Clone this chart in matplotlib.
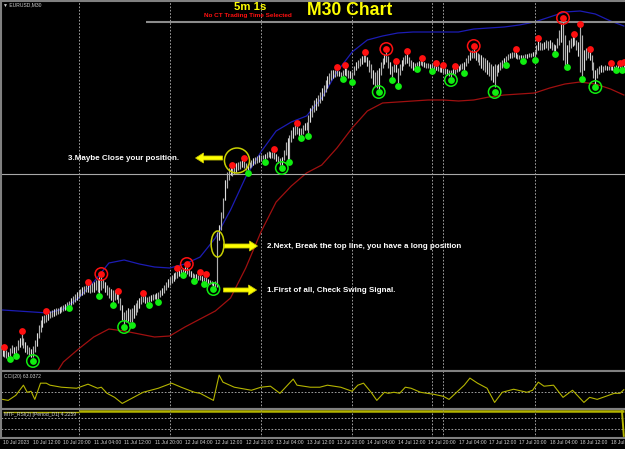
import numpy as np
import matplotlib
matplotlib.use('Agg')
import matplotlib.pyplot as plt
from matplotlib.patches import Ellipse, FancyArrow

plt.rcParams['font.family'] = ['Liberation Sans', 'DejaVu Sans']

# EURUSD M30 bars from 10 Jul 04:00; prices in pips above 1.0900
high_pips = [24, 21, 20, 18, 22, 25, 23, 24, 30, 32, 36, 32, 28, 25, 23, 21, 24, 30, 37, 45,
             50, 54, 55, 56, 58, 59, 60, 61, 62, 62, 63, 64, 65, 66, 68, 69, 72, 74, 76, 78,
             80, 81, 83, 84, 85, 85, 86, 87, 88, 90, 91, 93, 94, 91, 88, 85, 83, 81, 80, 80,
             80, 76, 72, 65, 58, 60, 62, 61, 62, 65, 67, 70, 72, 74, 75, 74, 73, 74, 75, 76,
             76, 77, 78, 80, 82, 85, 88, 91, 93, 95, 97, 98, 99, 100, 101, 102, 103, 103, 101, 99,
             97, 96, 96, 95, 95, 94, 93, 93, 91, 90, 89, 88, 89, 138, 145, 158, 172, 190, 198, 202,
             204, 202, 204, 207, 208, 209, 210, 209, 207, 206, 208, 210, 212, 213, 214, 215, 215, 215, 216, 218,
             219, 218, 218, 218, 216, 214, 212, 213, 220, 228, 232, 235, 240, 243, 245, 244, 242, 242, 245, 247,
             248, 255, 262, 265, 270, 272, 275, 278, 282, 285, 290, 294, 297, 300, 300, 300, 300, 299, 298, 300,
             302, 302, 300, 299, 298, 304, 308, 310, 312, 314, 315, 315, 313, 310, 306, 300, 298, 300, 302, 308,
             312, 316, 318, 314, 308, 304, 306, 306, 302, 306, 310, 313, 315, 316, 313, 310, 308, 307, 308, 309,
             310, 309, 308, 307, 307, 306, 306, 305, 304, 304, 303, 303, 302, 302, 301, 300, 300, 301, 301, 302,
             304, 306, 307, 308, 312, 315, 318, 320, 321, 319, 317, 316, 315, 313, 312, 310, 308, 306, 304, 306,
             305, 306, 308, 310, 312, 314, 316, 317, 318, 318, 318, 316, 315, 315, 315, 316, 316, 317, 317, 318,
             319, 325, 329, 328, 327, 328, 330, 329, 330, 328, 326, 325, 332, 340, 346, 349, 335, 325, 330, 332,
             334, 333, 330, 328, 343, 335, 320, 322, 320, 318, 315, 308, 300, 302, 304, 305, 304, 305, 304, 304,
             304, 304, 304, 305, 305, 304, 304, 305]
low_pips = [14, 13, 12, 13, 14, 17, 16, 17, 20, 23, 25, 22, 18, 16, 14, 13, 13, 18, 24, 32,
            38, 43, 47, 48, 50, 52, 53, 54, 55, 56, 57, 58, 59, 60, 61, 65, 65, 66, 68, 70,
            72, 74, 75, 76, 78, 78, 77, 78, 78, 80, 78, 77, 80, 82, 78, 75, 72, 70, 68, 70,
            71, 67, 60, 50, 45, 48, 49, 48, 48, 52, 55, 58, 62, 66, 68, 67, 67, 68, 69, 70,
            71, 71, 71, 73, 75, 77, 80, 83, 85, 87, 89, 91, 92, 94, 95, 98, 97, 96, 94, 93,
            92, 92, 91, 90, 90, 89, 89, 88, 87, 86, 85, 84, 83, 83, 130, 140, 152, 170, 182, 190,
            195, 194, 196, 198, 200, 201, 203, 202, 200, 200, 202, 203, 205, 206, 207, 208, 209, 211, 211, 212,
            213, 212, 212, 211, 209, 207, 205, 205, 210, 215, 210, 211, 228, 232, 235, 236, 234, 235, 236, 240,
            240, 237, 248, 253, 258, 260, 264, 267, 270, 274, 278, 282, 286, 290, 292, 293, 294, 294, 293, 294,
            295, 294, 292, 292, 291, 295, 300, 302, 304, 306, 308, 308, 304, 298, 292, 286, 284, 282, 281, 295,
            302, 306, 308, 302, 296, 293, 298, 298, 287, 295, 300, 304, 306, 307, 304, 302, 300, 301, 304, 304,
            305, 304, 303, 302, 302, 301, 302, 301, 300, 299, 298, 298, 297, 296, 295, 294, 293, 296, 296, 298,
            299, 300, 301, 300, 304, 307, 310, 312, 312, 310, 308, 305, 302, 300, 298, 296, 294, 290, 288, 283,
            294, 298, 300, 302, 304, 308, 310, 312, 312, 313, 312, 311, 311, 312, 312, 312, 312, 313, 313, 314,
            313, 316, 320, 320, 320, 321, 322, 320, 322, 320, 319, 319, 322, 325, 328, 310, 305, 306, 318, 322,
            324, 325, 320, 314, 298, 294, 300, 310, 312, 310, 300, 292, 286, 292, 296, 298, 298, 300, 300, 300,
            300, 300, 300, 303, 302, 302, 302, 303]

# swing signal dots (bar index, level in pips)
red_sig_bars = [1, 10, 23, 45, 52, 61, 74, 92, 97, 104, 107, 121, 127, 143, 155, 176, 180, 191, 202, 207,
                213, 221, 228, 232, 238, 248, 270, 282, 295, 301, 304, 309, 320, 325, 327]
red_sig_pips = [23, 39, 59, 88, 96, 79, 77, 102, 106, 98, 96, 205, 212, 221, 247, 303, 305, 318, 321, 309,
                319, 312, 307, 305, 304, 324, 321, 332, 352, 336, 346, 321, 307, 307, 308]
green_sig_bars = [4, 7, 16, 35, 51, 58, 64, 68, 77, 82, 95, 101, 106, 111, 129, 138, 147, 151, 157, 161,
                  179, 184, 198, 205, 208, 218, 226, 236, 243, 259, 265, 274, 280, 291, 297, 305, 312, 323, 326]
green_sig_pips = [11, 14, 9, 62, 74, 65, 43, 45, 65, 68, 95, 89, 86, 81, 197, 208, 202, 208, 232, 234,
                  291, 288, 278, 290, 284, 301, 299, 290, 297, 278, 305, 309, 310, 316, 303, 291, 283, 300, 300]
red_ring_bars = [52, 97, 202, 248, 295]
green_ring_bars = [16, 64, 111, 147, 198, 236, 259, 312]

# envelope bands
upper_bars = list(range(0, 321, 8)) + [327]
upper_band = [60, 59, 58, 57, 61, 72, 88, 107, 110, 106, 103, 102, 106, 113, 132, 160, 193, 218, 239, 248,
              254, 272, 298, 318, 330, 334, 337, 338, 338, 338, 338, 341, 342, 343, 345, 348, 353, 358, 359, 356,
              349, 344]
lower_bars = list(range(24, 321, 8)) + [327]
lower_band = [-16, 8, 21, 33, 41, 39, 36, 33, 34, 43, 51, 59, 72, 102, 138, 168, 184, 197, 205, 222,
              242, 259, 267, 268, 269, 270, 270, 269, 270, 273, 275, 276, 277, 282, 286, 288, 286, 281, 275]

# CCI(20)
cci_bars = [0, 3, 7, 11, 13, 15, 17, 20, 23, 25, 31, 39, 45, 50, 52, 55, 59, 63, 66, 69,
            74, 82, 89, 94, 101, 104, 108, 111, 114, 116, 122, 131, 136, 141, 146, 150, 153, 155, 162, 167,
            171, 178, 184, 187, 190, 194, 197, 201, 203, 206, 209, 212, 215, 220, 227, 232, 235, 239, 243, 246,
            250, 255, 259, 263, 269, 276, 279, 282, 285, 290, 295, 300, 306, 309, 313, 316, 322, 325, 327]
cci_vals = [-175, -200, -75, 175, 0, 25, -175, 225, 225, 175, 125, 100, 200, 100, 125, -25, -125, -275, -200, -125,
            0, 100, 225, 125, 0, -25, -125, -200, 425, 250, 125, 50, 125, 150, -25, 175, 325, 175, 125, 125,
            175, 125, 25, 175, 225, 0, -200, 0, -25, 0, -25, 125, 100, 0, -50, -100, -175, 0, 175, 350,
            225, 100, -250, 0, 75, 0, 50, 250, 150, 175, -125, 50, -250, -125, -175, -125, -25, -25, 63.04]

# MTF RSI(2) D1
rsi_day_start = [0, 40, 88, 136, 184, 232, 280]
rsi_day_vals = [92.6, 99.6, 99.6, 99.6, 99.6, 99.6, 99.6]
rsi_last = 4.2259

time_labels = ['10 Jul 2023', '10 Jul 12:00', '10 Jul 20:00', '11 Jul 04:00', '11 Jul 12:00',
               '11 Jul 20:00', '12 Jul 04:00', '12 Jul 12:00', '12 Jul 20:00', '13 Jul 04:00',
               '13 Jul 12:00', '13 Jul 20:00', '14 Jul 04:00', '14 Jul 12:00', '14 Jul 20:00',
               '17 Jul 04:00', '17 Jul 12:00', '17 Jul 20:00', '18 Jul 04:00', '18 Jul 12:00',
               '18 Jul 20:00']
label_bars = list(range(0, 321, 16))
day_lines = [40, 88, 136, 184, 226, 232, 280]

W, H = 625, 449
fig = plt.figure(figsize=(6.25, 4.49), dpi=100, facecolor='black')


def px_axes(x0, y0, x1, y1):
    ax = fig.add_axes([x0 / W, 1 - y1 / H, (x1 - x0) / W, (y1 - y0) / H])
    ax.set_facecolor('black')
    ax.set_xlim(-0.8, 329.2)
    ax.set_xticks([])
    ax.set_yticks([])
    for s in ax.spines.values():
        s.set_color('#808080')
        s.set_linewidth(1.5)
    for d in day_lines:
        ax.axvline(d, color='#b8b8b8', lw=0.6, ls=(0, (2, 2)), zorder=1)
    return ax


main = px_axes(1, 1, 628, 371)
cci = px_axes(1, 371, 628, 408.5)
rsi = px_axes(1, 408.5, 628, 437.5)

# ---- main chart
bars = np.arange(len(high_pips))
main.set_ylim(-1, 369)
main.vlines(bars, low_pips, high_pips, color='#b0b0b0', lw=0.85, zorder=3)
main.vlines(bars[::3], low_pips[::3], high_pips[::3], color='#e6e6e6', lw=0.6, zorder=3)
main.plot(upper_bars, upper_band, color='#1c1cb4', lw=0.9, zorder=2)
main.plot(lower_bars, lower_band, color='#a01010', lw=0.9, zorder=2)
main.hlines(348, 75.3, 330, color='#8c8c8c', lw=1.5, zorder=2)
main.axhline(196, color='#a8a8a8', lw=0.8, zorder=2)

main.scatter(red_sig_bars, red_sig_pips, s=24, color='#ff1010', zorder=5, linewidths=0)
main.scatter(green_sig_bars, green_sig_pips, s=24, color='#10ee10', zorder=5, linewidths=0)
red_lookup = dict(zip(red_sig_bars, red_sig_pips))
green_lookup = dict(zip(green_sig_bars, green_sig_pips))
main.scatter(red_ring_bars, [red_lookup[b] for b in red_ring_bars], s=80,
             facecolors='none', edgecolors='#ff1010', linewidths=1.1, zorder=5)
main.scatter(green_ring_bars, [green_lookup[b] for b in green_ring_bars], s=80,
             facecolors='none', edgecolors='#10ee10', linewidths=1.1, zorder=5)

# annotations
ann = dict(color='white', fontsize=5.8, fontweight='bold', va='center', ha='left', zorder=6)
main.text(34.2, 212, '3.Maybe Close your position.', **ann)
main.text(139, 123, '2.Next, Break the top line, you have a long position', **ann)
main.text(139, 79, '1.First of all, Check Swing Signal.', **ann)
arrow = dict(width=4, head_width=10, head_length=4.2, length_includes_head=True,
             fc='#ffff00', ec='#c8c800', lw=0.6, zorder=6)
main.add_patch(FancyArrow(115.8, 212, -14.2, 0, **arrow))
main.add_patch(FancyArrow(116.3, 124, 17.9, 0, **arrow))
main.add_patch(FancyArrow(116.3, 80, 17.4, 0, **arrow))
main.add_patch(Ellipse((123.4, 209.5), 13.2, 25, fill=False, ec='#c8d000', lw=1.1, zorder=6))
main.add_patch(Ellipse((113.2, 126), 6.8, 26, fill=False, ec='#c8d000', lw=1.1, zorder=6))

fig.text(3 / W, 1 - 4.5 / H, '▼ EURUSD,M30', color='#d0d0d0', fontsize=3.6, va='center', ha='left')
fig.text(250 / W, 1 - 7.5 / H, '5m 1s', color='#ffff00', fontsize=8.2, fontweight='bold',
         va='center', ha='center')
fig.text(248 / W, 1 - 16 / H, 'No CT Trading Time Selected', color='#ff1010', fontsize=4.6,
         fontweight='bold', va='center', ha='center')
fig.text(307 / W, 1 - 10.5 / H, 'M30 Chart', color='#ffff00', fontsize=12.7, fontweight='bold',
         va='center', ha='left')

# ---- CCI
cci.set_ylim(-400, 525)
cci.axhline(0, color='#b8b8b8', lw=0.6, ls=(0, (2, 2)))
cci.plot(cci_bars, cci_vals, color='#b4b400', lw=0.8)
cci.text(0.005, 0.86, 'CCI(20) 63.0372', transform=cci.transAxes, color='#d0d0d0',
         fontsize=3.6, va='center')

# ---- RSI
rsi.set_ylim(-1.9, 107.4)
for lv in (30, 70):
    rsi.axhline(lv, color='#b8b8b8', lw=0.6, ls=(0, (2, 2)))
day_ends = rsi_day_start[1:] + [len(high_pips) - 1]
for s, e, v in zip(rsi_day_start, day_ends, rsi_day_vals):
    rsi.plot([s, e], [v, v], color='#b4b400', lw=1.8 if v > 95 else 1.0, solid_capstyle='butt')
rsi.plot([len(high_pips) - 2, len(high_pips) - 1], [rsi_day_vals[-1], rsi_last], color='#b4b400', lw=1.4)
rsi.text(0.005, 0.78, 'MTF_RSI(2) [Period_D1] 4.2259', transform=rsi.transAxes, color='#d0d0d0',
         fontsize=3.6, va='center')

# ---- time axis labels
for b, lab in zip(label_bars, time_labels):
    rsi.text(b, -0.16, lab, transform=rsi.get_xaxis_transform(), color='#d0d0d0',
             fontsize=3.6, va='center', ha='left', clip_on=False)

fig.savefig('out.png', dpi=100, facecolor='black')
